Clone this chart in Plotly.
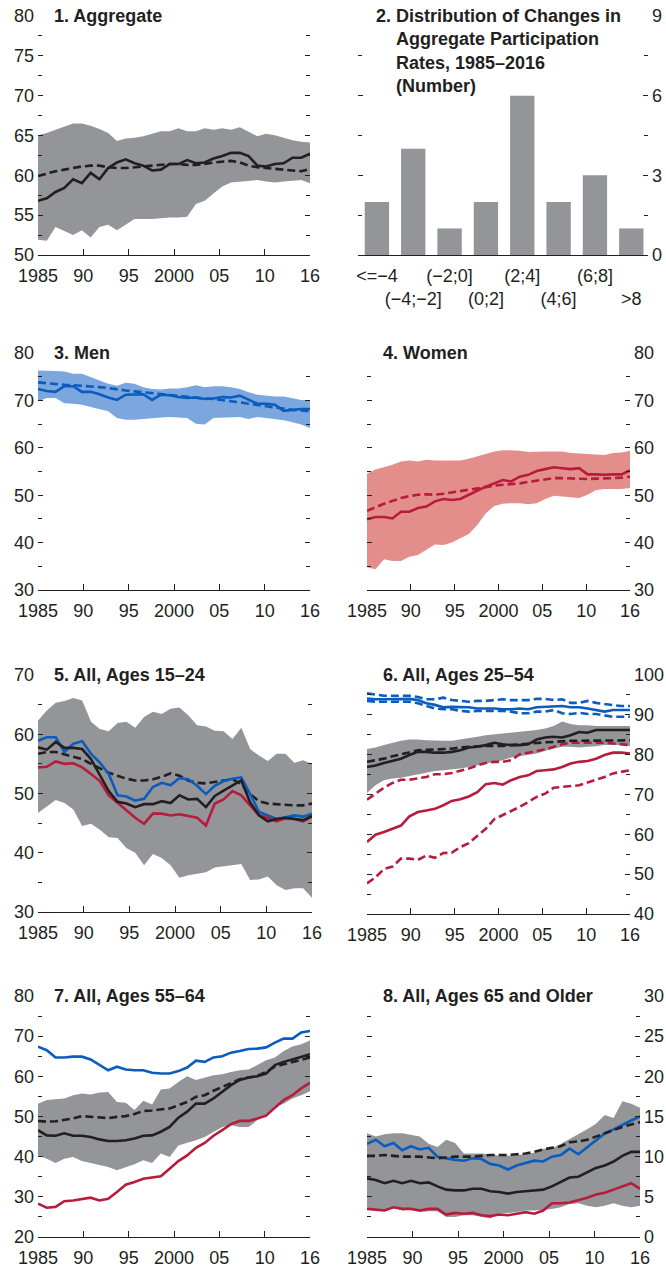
import plotly.graph_objects as go

W, H = 666, 1268
years = list(range(1985, 2017))
xtick_text = ["1985", "90", "95", "2000", "05", "10", "16"]

# Panel 1: Aggregate
agg_mean = [56.8,57.1,57.9,58.4,59.5,59.0,60.3,59.5,60.9,61.6,62.0,61.5,61.2,60.6,60.7,61.4,61.4,61.9,61.5,61.6,62.1,62.4,62.8,62.8,62.4,61.2,61.1,61.4,61.5,62.2,62.2,62.7]
agg_trend = [59.9,60.2,60.5,60.7,60.9,61.1,61.2,61.2,61.0,60.9,60.9,61.0,61.1,61.2,61.3,61.4,61.4,61.3,61.3,61.4,61.6,61.7,61.8,61.6,61.2,61.0,60.9,60.8,60.7,60.6,60.5,60.8]
agg_hi = [65.0,65.3,65.7,66.1,66.5,66.5,66.2,65.8,65.3,64.3,64.6,64.7,64.9,65.2,65.5,65.5,65.9,65.5,65.5,65.9,65.7,65.9,65.7,66.0,65.4,64.9,65.2,65.0,64.7,64.4,64.2,64.1]
agg_lo = [51.9,51.8,53.5,53.0,52.5,53.1,52.2,53.5,53.8,53.1,53.8,54.5,54.5,54.5,54.6,54.7,54.7,54.8,56.4,56.8,57.7,58.6,59.1,59.2,59.3,59.4,59.2,59.1,59.2,59.3,59.4,59.0]

# Panel 2: distribution of changes
bins = ["&lt;=−4", "(−4;−2]", "(−2;0]", "(0;2]", "(2;4]", "(4;6]", "(6;8]", "&gt;8"]
counts = [2, 4, 1, 2, 6, 2, 3, 1]

# Panel 3: Men
men_mean = [72.4,72.0,71.8,73.0,73.0,71.8,71.8,71.3,70.6,70.1,71.2,71.2,71.3,70.1,71.2,71.1,70.7,70.5,70.6,70.3,70.4,70.7,70.6,71.0,70.1,69.3,69.3,69.1,67.8,68.0,68.2,68.2]
men_trend = [73.8,73.6,73.5,73.3,73.2,73.1,73.0,72.8,72.6,72.3,72.1,71.9,71.7,71.6,71.4,71.2,71.0,70.8,70.5,70.4,70.3,70.1,69.9,69.6,69.3,69.0,68.8,68.5,68.3,68.0,67.9,67.7]
men_hi = [76.3,76.3,76.2,76.1,75.6,75.6,74.9,74.2,73.5,73.1,73.7,73.5,72.8,72.4,72.3,72.5,72.5,72.8,73.2,72.8,73.0,73.0,72.8,72.4,71.7,71.2,71.0,70.8,70.8,70.5,70.1,70.0]
men_lo = [69.8,70.5,70.5,69.4,69.3,69.1,68.6,68.2,67.7,66.3,65.9,65.9,66.1,66.3,66.4,66.5,66.4,66.3,65.1,64.9,66.3,66.4,66.5,66.5,66.1,66.5,66.3,66.1,65.8,65.4,64.9,64.2]

# Panel 4: Women
wom_mean = [44.9,45.4,45.4,45.1,46.5,46.5,47.3,47.6,48.7,49.2,49.0,49.2,50.1,51.0,51.8,52.5,53.2,52.9,53.9,54.3,55.1,55.5,55.9,55.7,55.5,55.7,54.4,54.4,54.3,54.4,54.4,55.2]
wom_trend = [46.7,47.5,48.2,48.8,49.4,49.8,50.1,50.2,50.1,50.3,50.6,50.8,51.1,51.4,51.8,52.0,52.2,52.3,52.5,52.8,53.1,53.4,53.6,53.6,53.5,53.4,53.4,53.5,53.5,53.6,53.7,53.9]
wom_hi = [54.5,55.4,55.9,56.4,57.1,57.3,57.1,57.5,57.3,57.3,57.3,57.3,57.7,58.2,58.7,59.2,59.5,59.4,59.4,59.1,59.2,59.2,59.2,59.2,58.9,58.8,58.7,58.5,58.5,58.9,59.0,59.4]
wom_lo = [34.8,34.4,36.5,36.1,36.1,37.0,37.4,38.5,39.6,39.5,40.0,40.9,41.8,43.7,46.2,47.7,48.2,48.3,48.3,48.1,48.3,49.2,49.9,49.7,49.6,49.4,50.1,51.1,51.3,51.3,51.3,51.5]

# Panel 5: All, ages 15-24
y15_hi = [62.3,64.0,65.3,65.6,66.1,65.7,62.1,60.9,60.5,61.9,62.1,61.1,62.9,63.8,63.4,64.3,64.5,63.2,61.5,61.3,60.6,60.5,59.2,61.1,57.5,56.4,55.5,56.7,56.7,55.2,55.6,55.0]
y15_lo = [46.7,47.8,48.9,48.4,47.3,44.5,44.9,43.9,42.6,42.5,40.8,40.0,37.9,39.8,39.1,37.9,35.8,36.2,36.4,36.7,37.5,37.7,37.9,38.1,35.4,35.5,36.0,34.5,33.7,34.0,34.0,32.4]
y15_men = [58.9,59.5,59.5,57.0,58.4,58.8,56.7,55.2,53.3,49.7,49.5,48.8,49.1,51.1,51.8,51.4,52.6,52.4,51.3,49.9,51.3,52.1,52.5,52.7,49.9,46.9,46.3,45.7,46.0,46.3,46.1,46.6]
y15_all = [57.8,57.4,58.7,57.7,57.7,57.5,55.8,53.0,50.4,48.6,48.3,47.7,48.2,48.2,48.7,48.4,49.7,49.0,49.1,47.7,49.6,50.5,51.4,52.2,48.5,46.3,45.3,45.7,45.9,45.7,45.5,46.2]
y15_wom = [54.4,54.5,55.4,55.0,55.1,54.4,53.3,52.1,49.7,48.4,47.1,45.9,44.9,46.6,46.6,46.3,46.5,46.2,45.9,44.6,48.3,49.0,50.4,49.7,48.0,46.3,45.9,45.3,45.8,45.7,45.3,46.1]
y15_trend = [56.7,57.0,57.0,56.6,56.2,55.8,55.0,54.2,53.5,53.0,52.5,52.2,52.2,52.4,52.8,53.4,53.0,52.2,51.8,51.7,52.0,52.2,52.4,51.6,49.9,48.7,48.3,48.2,48.0,48.0,48.0,48.3]

# Panel 6: All, ages 25-54
p25_men = [94.1,93.9,93.9,93.9,93.9,94.0,93.7,92.9,92.5,91.9,92.0,92.0,91.9,91.6,91.6,91.6,91.4,91.4,91.6,91.4,91.9,92.0,92.2,92.2,91.9,91.9,91.6,91.2,90.8,91.2,91.2,91.2]
p25_men_hi = [95.4,95.1,94.8,94.8,94.8,94.8,94.5,93.9,93.9,94.3,93.7,93.5,93.3,93.5,93.5,93.7,93.9,93.7,93.7,93.7,94.0,94.0,93.7,93.9,93.0,93.0,93.5,93.0,92.7,92.5,92.2,92.2]
p25_men_lo = [93.5,93.3,93.3,93.3,93.3,93.3,92.9,92.2,91.6,91.4,91.4,91.0,90.8,91.0,91.0,91.0,91.0,90.8,90.4,90.4,90.8,90.8,91.2,90.4,90.2,90.5,90.2,90.2,89.8,89.5,89.5,89.5]
p25_hi = [81.4,81.8,82.4,83.0,83.5,83.8,83.8,83.6,83.5,83.5,83.5,83.8,84.1,84.5,84.9,85.1,85.3,85.6,85.7,85.9,86.2,86.6,87.2,88.3,87.7,87.4,87.4,87.2,87.2,87.2,87.2,87.2]
p25_lo = [70.4,72.3,73.6,74.0,74.2,74.6,75.1,75.4,75.9,76.1,76.3,76.5,76.9,77.3,77.8,78.2,78.6,79.3,79.6,79.9,80.3,81.0,81.5,82.0,82.0,81.8,82.0,82.1,82.4,82.4,82.4,82.1]
p25_all = [76.9,77.3,77.9,78.4,79.0,79.9,80.7,80.7,80.5,80.5,80.7,81.1,81.8,82.0,82.4,83.0,82.6,82.4,82.4,82.6,83.8,84.3,84.5,84.3,84.9,85.7,85.5,86.2,86.2,86.2,86.2,86.2]
p25_trend = [78.2,78.6,79.0,79.6,80.1,80.6,81.1,81.2,81.3,81.4,81.5,81.8,82.0,82.1,82.2,82.2,82.2,82.4,82.6,82.8,83.0,83.1,83.2,83.4,83.5,83.5,83.5,83.5,83.5,83.5,83.6,83.6]
p25_wom_hi = [68.7,70.2,71.7,72.9,73.7,73.7,74.0,74.4,75.1,75.1,75.4,75.9,76.5,77.3,77.9,78.2,78.2,78.6,80.1,80.5,80.9,81.3,82.0,82.6,83.0,83.0,83.0,83.0,83.0,82.8,82.6,82.4]
p25_wom = [58.1,59.9,60.6,61.4,62.2,64.5,65.6,66.0,66.4,67.3,68.4,68.8,69.5,70.6,72.6,72.9,72.5,73.6,74.4,74.8,75.9,76.1,76.3,76.9,77.8,78.2,78.4,79.0,79.9,80.5,80.5,80.3]
p25_wom_lo = [47.7,49.2,51.3,51.9,53.9,53.9,53.6,54.7,54.1,55.3,55.4,56.8,57.8,59.5,61.4,63.8,64.8,66.0,66.9,68.1,69.4,70.2,71.7,71.9,72.1,72.3,73.0,73.7,74.4,75.3,75.7,76.1]

# Panel 7: All, ages 55-64
p55_hi = [53.2,54.1,54.3,54.5,55.3,55.7,55.5,56.0,56.1,53.6,53.4,51.6,53.9,53.0,56.7,57.0,58.6,60.0,59.1,59.7,60.3,60.5,61.1,61.5,61.7,62.8,64.0,64.7,66.3,67.4,68.0,68.9]
p55_lo = [40.3,39.5,38.4,39.5,39.9,38.9,38.4,37.9,37.4,36.6,37.4,38.1,39.1,38.4,40.8,39.9,42.8,43.4,44.1,44.9,46.2,47.4,47.8,47.4,47.4,49.1,50.3,52.4,53.2,54.5,55.3,56.3]
p55_men = [67.4,66.5,64.7,64.7,64.9,64.9,64.2,62.8,61.5,62.4,61.7,61.5,61.5,60.9,60.7,60.7,61.3,62.2,63.9,63.6,64.7,65.0,65.9,66.3,66.8,66.9,67.2,68.4,69.4,69.4,70.9,71.3]
p55_all = [46.6,45.3,45.2,45.8,45.2,45.2,44.9,44.3,43.9,43.9,44.1,44.5,45.2,45.3,46.2,47.4,49.7,51.2,53.2,53.2,54.5,56.1,57.8,59.1,59.7,60.0,60.7,62.8,63.6,64.2,64.9,65.5]
p55_trend = [48.9,48.7,48.8,49.1,49.5,50.1,49.9,49.7,49.6,49.9,50.1,50.6,51.4,51.5,51.7,52.0,52.8,53.6,54.9,55.3,56.4,57.4,58.4,59.3,59.7,60.1,61.1,62.4,63.0,63.6,64.2,64.7]
p55_wom = [28.3,27.3,27.5,28.9,29.1,29.5,29.8,29.1,29.5,31.2,33.0,33.7,34.5,34.8,35.1,37.0,38.9,40.3,42.2,43.4,45.2,46.6,48.1,48.9,48.9,49.5,50.2,52.2,54.1,55.3,57.0,58.4]

# Panel 8: All, ages 65 and older
p65_hi = [12.9,12.5,12.8,12.9,12.9,12.7,12.5,11.6,11.2,12.1,11.7,10.4,10.4,10.4,10.3,10.1,10.1,10.2,10.3,10.5,11.0,11.0,11.6,12.1,12.7,13.4,14.1,15.2,14.8,16.9,16.6,16.1]
p65_lo = [3.7,3.3,3.4,3.7,3.3,3.4,3.1,3.2,3.2,2.5,2.5,2.7,2.7,2.5,2.3,2.9,3.0,3.1,3.3,3.3,3.4,3.5,3.7,4.1,4.2,3.9,3.7,3.9,4.2,3.9,3.7,3.9]
p65_men = [11.6,12.1,11.3,11.7,10.8,11.3,10.9,11.1,10.0,9.8,9.6,9.5,9.8,9.7,9.1,8.9,8.4,8.9,9.2,9.5,9.4,10.0,10.2,11.0,10.3,11.2,12.1,12.9,13.4,14.0,14.5,15.0]
p65_all = [7.3,7.1,6.7,7.0,6.7,7.0,6.7,6.8,6.3,5.9,5.8,5.8,6.0,6.0,5.7,5.6,5.4,5.6,5.7,5.8,5.9,6.3,6.9,7.4,7.5,8.1,8.6,8.9,9.4,10.1,10.6,10.6]
p65_trend = [10.1,10.1,10.2,10.1,10.0,10.0,10.0,9.9,9.8,9.9,10.0,10.0,10.0,10.1,10.2,10.2,10.2,10.3,10.4,10.6,10.9,11.1,11.3,11.8,11.9,12.1,12.5,12.9,13.3,13.7,14.0,14.3]
p65_wom = [3.5,3.4,3.3,3.7,3.5,3.5,3.3,3.5,3.5,2.8,3.0,2.9,3.0,2.7,2.6,2.8,2.7,2.9,3.1,2.9,3.3,4.2,4.2,4.3,4.6,4.9,5.3,5.5,5.9,6.3,6.7,6.0]

BLACK = "#231f20"
GREY = "#939598"
BLUE = "#0a5cbf"
RED = "#b71c3c"
BLUEFILL = "#7ba6de"
REDFILL = "#e48e8c"
FONT = "Liberation Sans, Arial, sans-serif"
FS = 18

fig = go.Figure()


def dx(a, b):
    return [a / W, b / W]


def dy(top, bottom):
    return [1 - bottom / H, 1 - top / H]


# panel specs: xdomain px, ydomain px (top,bottom), yrange, label dtick, minor dtick, side
panels = [
    (dx(38, 310), dy(15.7, 255), [50, 80], 5, 2.5, "left"),
    (dx(358, 648), dy(16, 255), [0, 9], 3, 1.5, "right"),
    (dx(38, 310), dy(353, 590), [30, 80], 10, 5, "left"),
    (dx(367, 630), dy(353, 590), [30, 80], 10, 5, "right"),
    (dx(38, 312), dy(675, 912), [30, 70], 10, 5, "left"),
    (dx(367, 630), dy(675, 914), [40, 100], 10, 5, "right"),
    (dx(38, 310), dy(996, 1237), [20, 80], 10, 5, "left"),
    (dx(367, 640), dy(996, 1237), [0, 30], 5, 2.5, "right"),
]

tickvals_years = [1985 + k * 31 / 6 for k in range(7)]

for i, (xd, yd, yr, dt, mdt, side) in enumerate(panels):
    n = "" if i == 0 else str(i + 1)
    xa = dict(
        domain=xd, anchor="y" + n, showgrid=False, zeroline=False,
        showline=True, linecolor=BLACK, linewidth=1.3, automargin=False,
        tickfont=dict(family=FONT, size=FS, color=BLACK),
        fixedrange=True, tickangle=0,
    )
    if i == 1:
        xa.update(range=[-0.52, 7.46], tickmode="array", tickvals=list(range(8)),
                  ticktext=[b if j % 2 == 0 else "<br>" + b for j, b in enumerate(bins)],
                  ticks="", ticklabelstandoff=4)
    else:
        xa.update(range=[1985, 2016], tickmode="array", tickvals=tickvals_years,
                  ticktext=xtick_text, ticks="inside", ticklen=6, tickwidth=1.3,
                  tickcolor=BLACK, ticklabelstandoff=4)
    ya = dict(
        domain=yd, anchor="x" + n, range=yr, side=side, showgrid=False,
        zeroline=False, showline=False, ticks="inside", ticklen=5, tickwidth=1.3,
        tickcolor=BLACK, mirror="ticks", dtick=dt, tick0=0, automargin=False,
        tickfont=dict(family=FONT, size=FS, color=BLACK),
        minor=dict(dtick=mdt, tick0=0, ticks="inside", ticklen=4, tickwidth=1.3,
                   tickcolor=BLACK, showgrid=False),
        ticklabelstandoff=3, fixedrange=True,
    )
    if i == 1:
        ya["tickvals"] = [0, 3, 6, 9]
        ya["tickmode"] = "array"
    if i == 0:
        ya["tickmode"] = "array"
        ya["tickvals"] = [50, 55, 60, 65, 70, 75, 80]
    fig.layout["xaxis" + n] = xa
    fig.layout["yaxis" + n] = ya


def band(panel, lo, hi, color):
    n = "" if panel == 1 else str(panel)
    fig.add_trace(go.Scatter(x=years, y=lo, mode="lines", line=dict(width=0, color=color),
                             xaxis="x" + n, yaxis="y" + n, hoverinfo="skip", showlegend=False))
    fig.add_trace(go.Scatter(x=years, y=hi, mode="lines", line=dict(width=0, color=color),
                             fill="tonexty", fillcolor=color,
                             xaxis="x" + n, yaxis="y" + n, hoverinfo="skip", showlegend=False))


def line(panel, y, color, dash=False, width=2.6):
    n = "" if panel == 1 else str(panel)
    fig.add_trace(go.Scatter(x=years, y=y, mode="lines",
                             line=dict(color=color, width=width, dash="8px,4px" if dash else "solid"),
                             xaxis="x" + n, yaxis="y" + n, showlegend=False))


# Panel 1
band(1, agg_lo, agg_hi, GREY)
line(1, agg_trend, BLACK, dash=True)
line(1, agg_mean, BLACK)

# Panel 2
fig.add_trace(go.Bar(x=list(range(8)), y=counts, marker=dict(color=GREY, line=dict(width=0)),
                     width=0.67, xaxis="x2", yaxis="y2", showlegend=False))

# Panel 3
band(3, men_lo, men_hi, BLUEFILL)
line(3, men_trend, BLUE, dash=True)
line(3, men_mean, BLUE)

# Panel 4
band(4, wom_lo, wom_hi, REDFILL)
line(4, wom_trend, RED, dash=True)
line(4, wom_mean, RED)

# Panel 5
band(5, y15_lo, y15_hi, GREY)
line(5, y15_trend, BLACK, dash=True)
line(5, y15_men, BLUE)
line(5, y15_wom, RED)
line(5, y15_all, BLACK)

# Panel 6
band(6, p25_lo, p25_hi, GREY)
line(6, p25_men_hi, BLUE, dash=True)
line(6, p25_men_lo, BLUE, dash=True)
line(6, p25_men, BLUE)
line(6, p25_wom_hi, RED, dash=True)
line(6, p25_wom_lo, RED, dash=True)
line(6, p25_wom, RED)
line(6, p25_trend, BLACK, dash=True)
line(6, p25_all, BLACK)

# Panel 7
band(7, p55_lo, p55_hi, GREY)
line(7, p55_men, BLUE)
line(7, p55_wom, RED)
line(7, p55_trend, BLACK, dash=True)
line(7, p55_all, BLACK)

# Panel 8
band(8, p65_lo, p65_hi, GREY)
line(8, p65_men, BLUE)
line(8, p65_wom, RED)
line(8, p65_trend, BLACK, dash=True)
line(8, p65_all, BLACK)

titles = [
    (53, 15.7, "1. Aggregate", "middle"),
    (375, 16, "2.", "middle"),
    (395, 5, "Distribution of Changes in<br>Aggregate Participation<br>Rates, 1985–2016<br>(Number)", "top"),
    (53, 353, "3. Men", "middle"),
    (382, 353, "4. Women", "middle"),
    (53, 675, "5. All, Ages 15–24", "middle"),
    (382, 675, "6. All, Ages 25–54", "middle"),
    (53, 996, "7. All, Ages 55–64", "middle"),
    (382, 996, "8. All, Ages 65 and Older", "middle"),
]
for x, y, t, ya_ in titles:
    fig.add_annotation(
        x=x / W, y=1 - y / H, xref="paper", yref="paper", xanchor="left",
        yanchor=ya_, align="left", text="<b>" + t + "</b>", showarrow=False,
        font=dict(family=FONT, size=FS, color=BLACK), borderpad=0,
    )

fig.update_layout(
    width=W, height=H, margin=dict(l=0, r=0, t=0, b=0, pad=0),
    paper_bgcolor="white", plot_bgcolor="white",
    showlegend=False, bargap=0.33,
)

fig.write_html("out.html", config={"displayModeBar": False},
               post_script="document.body.style.margin='0';document.body.style.overflow='hidden';")
